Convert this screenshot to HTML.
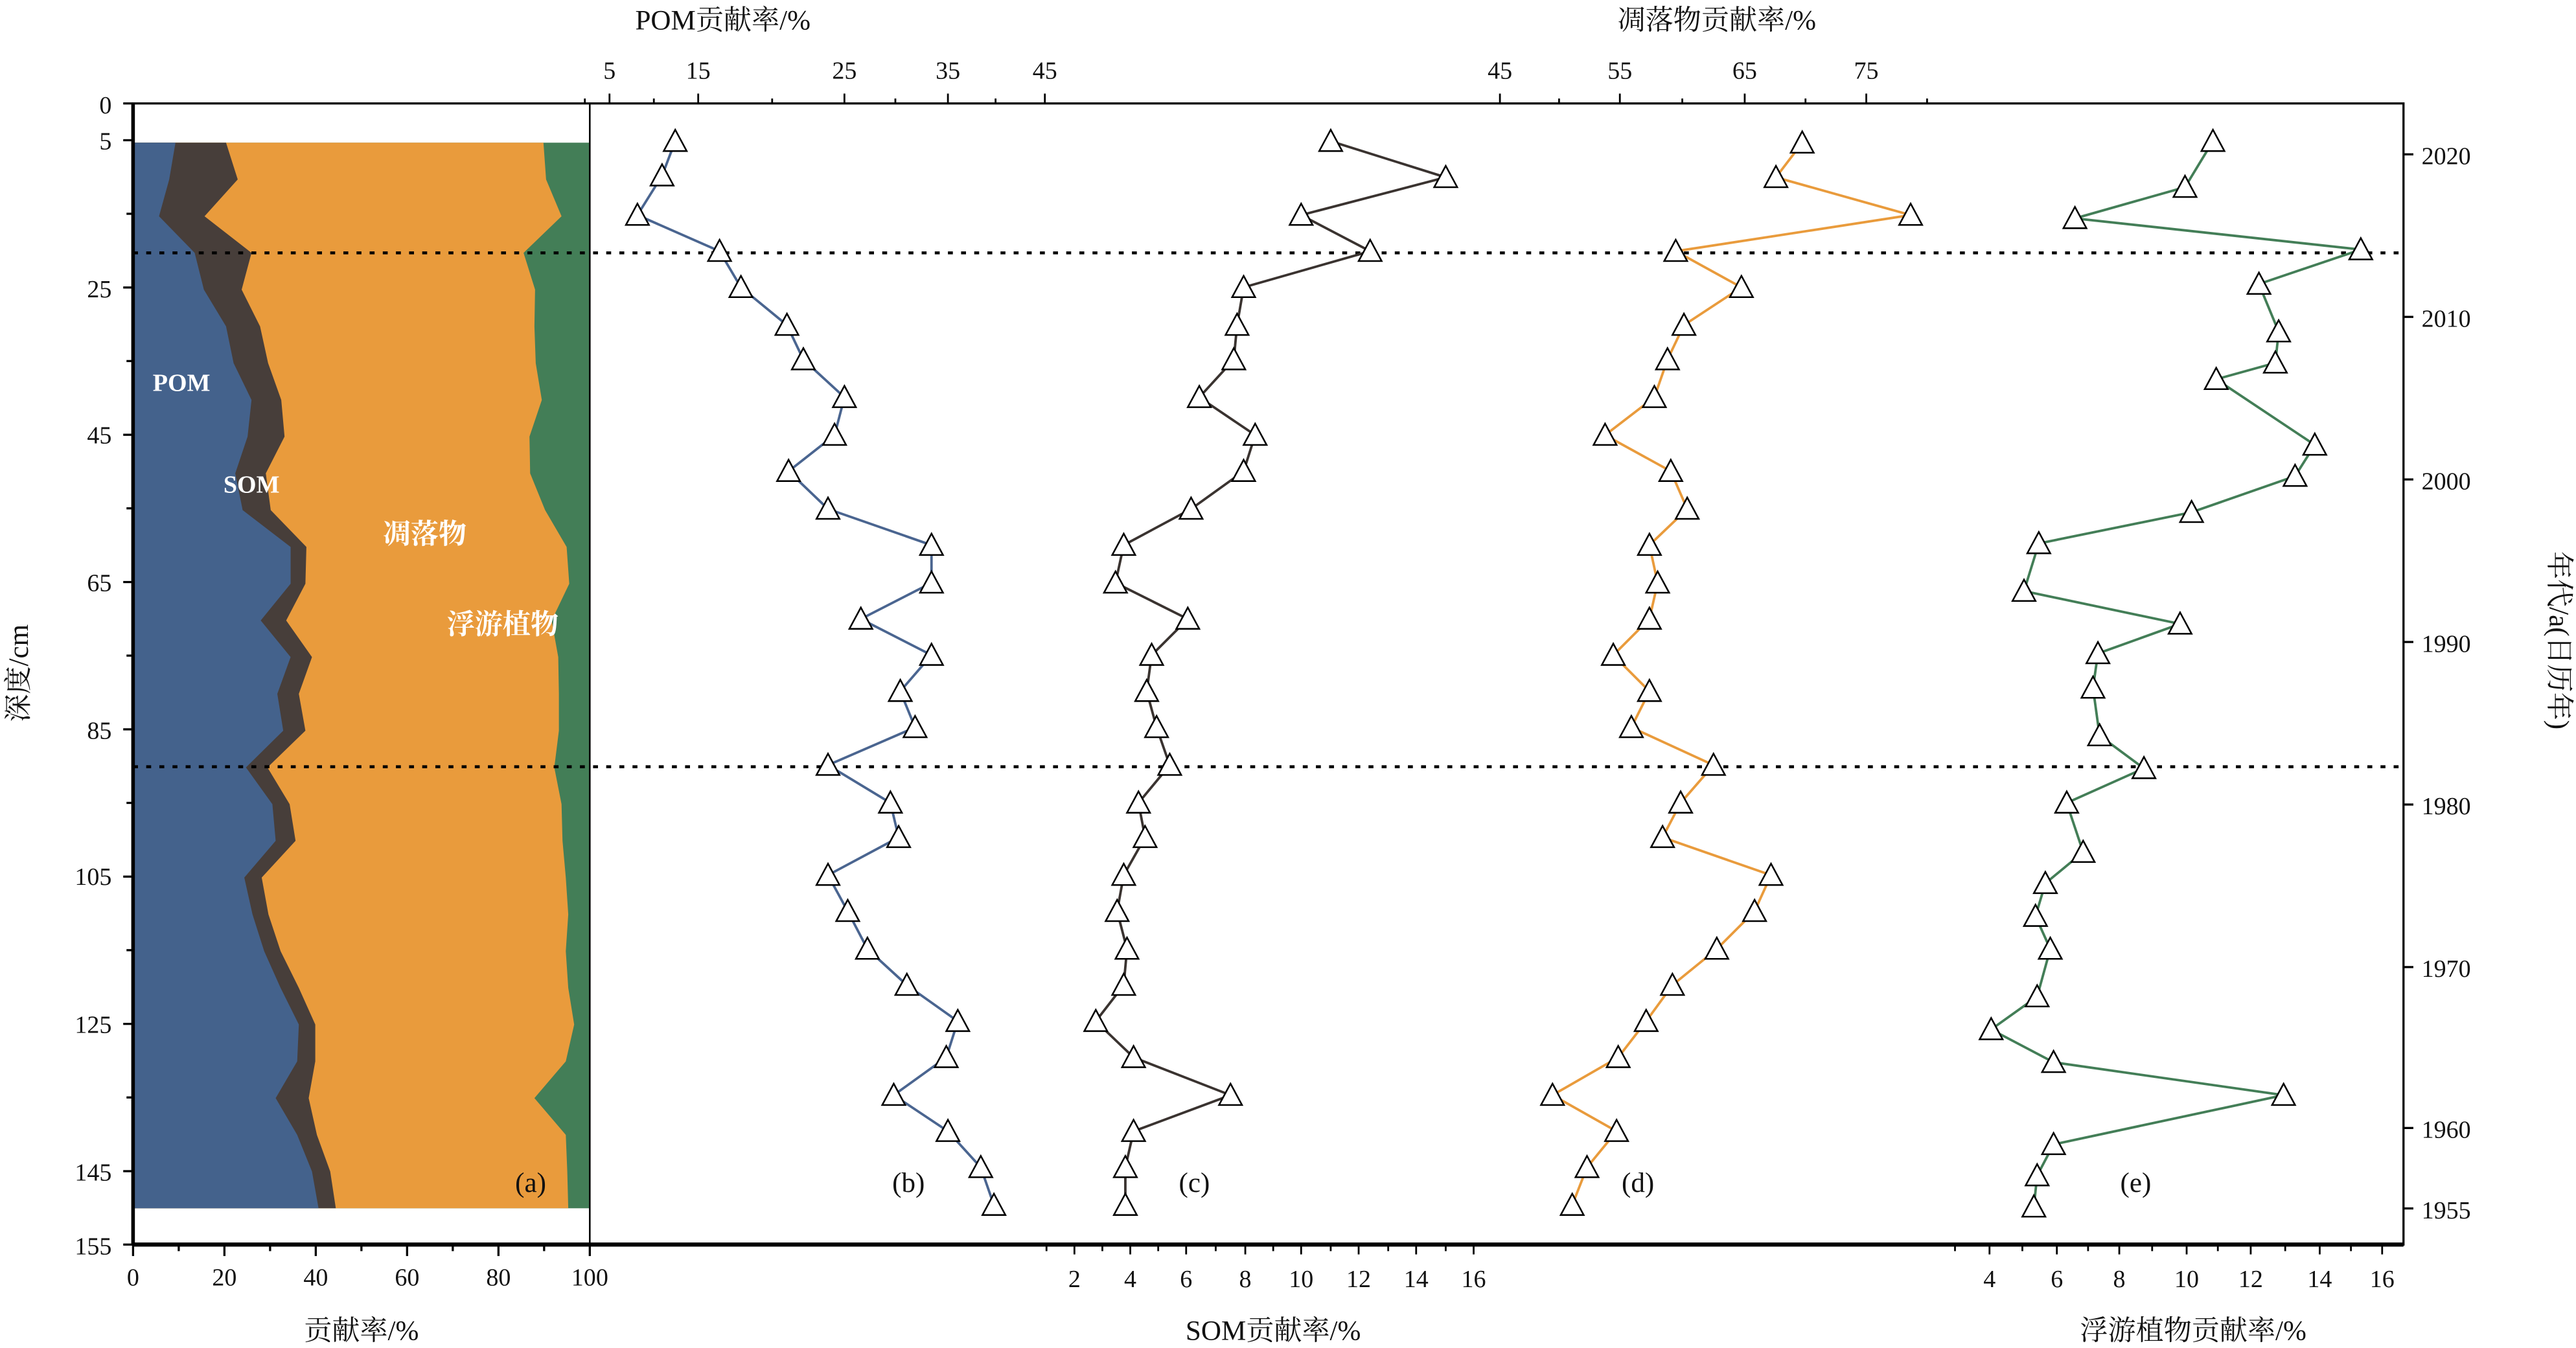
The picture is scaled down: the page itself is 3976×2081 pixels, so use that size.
<!DOCTYPE html>
<html><head><meta charset="utf-8"><style>html,body{margin:0;padding:0;background:#fff}svg{display:block}
text{font-family:"Liberation Serif","Noto Serif CJK SC",serif;fill:#111}</style></head><body>
<svg width="3976" height="2081" viewBox="0 0 1568 821" preserveAspectRatio="none" xmlns="http://www.w3.org/2000/svg">
<defs>
<marker id="t" viewBox="-8 -8 16 16" markerWidth="16" markerHeight="16" markerUnits="userSpaceOnUse" refX="0" refY="0">
<path d="M0,-7 L7,6 L-7,6 Z" fill="#fff" stroke="#000" stroke-width="1"/></marker>
</defs>
<rect x="81" y="86.9" width="278" height="649" fill="#437e57"/>
<path fill="#e99b3c" d="M81,86.9 L330.8,86.9 332.4,109.3 341.8,131.7 318.7,154 325.7,176.4 325.3,198.8 326.1,221.2 329.8,243.6 322.3,265.9 322.7,288.3 331.8,310.7 344.9,333.1 346.5,355.5 335.8,377.9 339.8,400.2 340.2,422.6 340.2,445 337.4,467.4 341.8,489.8 342.4,512.1 344.4,534.5 345.9,556.9 344.4,579.3 345.9,601.7 349.5,624 344.4,646.4 325.3,668.8 344.4,691.2 345.3,713.5 345.9,735.9 L81,735.9 Z"/>
<path fill="#473e3a" d="M81,86.9 L137.6,86.9 144.7,109.3 124.5,131.7 153.1,154 147.1,176.4 158.3,198.8 163.2,221.2 171.2,243.6 173.2,265.9 161.8,288.3 164.8,310.7 186.5,333.1 185.9,355.5 174.2,377.9 189.9,400.2 181.9,422.6 185.9,445 162.8,467.4 176.3,489.8 179.9,512.1 159.3,534.5 163.4,556.9 170.8,579.3 181.9,601.7 191.9,624 191.9,646.4 187.9,668.8 192.9,691.2 201,713.5 204.4,735.9 L81,735.9 Z"/>
<path fill="#44628c" d="M81,86.9 L106.8,86.9 103,109.3 96.8,131.7 118.5,154 124.1,176.4 137.6,198.8 142.2,221.2 153.1,243.6 150.7,265.9 143.2,288.3 147.7,310.7 176.9,333.1 176.9,355.5 158.7,377.9 176.9,400.2 168.8,422.6 172.4,445 149.7,467.4 165.8,489.8 167.8,512.1 148.7,534.5 153.7,556.9 160.8,579.3 170.8,601.7 181.9,624 180.9,646.4 167.8,668.8 180.9,691.2 189.9,713.5 193.9,735.9 L81,735.9 Z"/>
<text x="93" y="238" font-size="15" font-weight="bold" style="fill:#fff">POM</text>
<text x="136" y="300" font-size="15" font-weight="bold" style="fill:#fff">SOM</text>
<text x="233" y="331" font-size="17" font-weight="bold" style="fill:#fff">凋落物</text>
<text x="272" y="386" font-size="17" font-weight="bold" style="fill:#fff">浮游植物</text>
<line x1="81" y1="154" x2="1463" y2="154" stroke="#000" stroke-width="1.8" stroke-dasharray="3,5"/>
<line x1="81" y1="467" x2="1463" y2="467" stroke="#000" stroke-width="1.8" stroke-dasharray="3,5"/>
<rect x="81" y="63" width="1382" height="695" fill="none" stroke="#000" stroke-width="1.3"/>
<line x1="81" y1="63" x2="81" y2="758" stroke="#000" stroke-width="2.2"/>
<line x1="81" y1="758" x2="1463" y2="758" stroke="#000" stroke-width="2.5"/>
<line x1="359" y1="63" x2="359" y2="758" stroke="#000" stroke-width="1"/>
<g stroke="#000" stroke-width="1.3">
<line x1="75" y1="63" x2="81" y2="63"/><line x1="75" y1="85.4" x2="81" y2="85.4"/><line x1="77" y1="130.2" x2="81" y2="130.2"/><line x1="75" y1="175.1" x2="81" y2="175.1"/><line x1="77" y1="219.9" x2="81" y2="219.9"/><line x1="75" y1="264.8" x2="81" y2="264.8"/><line x1="77" y1="309.6" x2="81" y2="309.6"/><line x1="75" y1="354.5" x2="81" y2="354.5"/><line x1="77" y1="399.3" x2="81" y2="399.3"/><line x1="75" y1="444.2" x2="81" y2="444.2"/><line x1="77" y1="489" x2="81" y2="489"/><line x1="75" y1="533.9" x2="81" y2="533.9"/><line x1="77" y1="578.7" x2="81" y2="578.7"/><line x1="75" y1="623.6" x2="81" y2="623.6"/><line x1="77" y1="668.4" x2="81" y2="668.4"/><line x1="75" y1="713.3" x2="81" y2="713.3"/><line x1="75" y1="758" x2="81" y2="758"/>
</g>
<g font-size="15" text-anchor="end">
<text x="68" y="69">0</text><text x="68" y="91">5</text><text x="68" y="181">25</text><text x="68" y="270">45</text><text x="68" y="360">65</text><text x="68" y="450">85</text><text x="68" y="539">105</text><text x="68" y="629">125</text><text x="68" y="719">145</text><text x="68" y="764">155</text>
</g>
<text transform="translate(17,410) rotate(-90)" font-size="17" text-anchor="middle">深度/cm</text>
<g stroke="#000" stroke-width="1.3">
<line x1="81" y1="758" x2="81" y2="765"/><line x1="108.8" y1="758" x2="108.8" y2="762"/><line x1="136.6" y1="758" x2="136.6" y2="765"/><line x1="164.4" y1="758" x2="164.4" y2="762"/><line x1="192.2" y1="758" x2="192.2" y2="765"/><line x1="220" y1="758" x2="220" y2="762"/><line x1="247.8" y1="758" x2="247.8" y2="765"/><line x1="275.6" y1="758" x2="275.6" y2="762"/><line x1="303.4" y1="758" x2="303.4" y2="765"/><line x1="331.2" y1="758" x2="331.2" y2="762"/><line x1="359" y1="758" x2="359" y2="765"/>
</g>
<g font-size="15" text-anchor="middle">
<text x="81" y="783">0</text><text x="136.6" y="783">20</text><text x="192.2" y="783">40</text><text x="247.8" y="783">60</text><text x="303.4" y="783">80</text><text x="359" y="783">100</text>
</g>
<text x="220" y="816" font-size="17" text-anchor="middle">贡献率/%</text>
<g stroke="#000" stroke-width="1.1">
<line x1="654" y1="758" x2="654" y2="764"/><line x1="688" y1="758" x2="688" y2="764"/><line x1="722" y1="758" x2="722" y2="764"/><line x1="758" y1="758" x2="758" y2="764"/><line x1="792" y1="758" x2="792" y2="764"/><line x1="827" y1="758" x2="827" y2="764"/><line x1="862" y1="758" x2="862" y2="764"/><line x1="897" y1="758" x2="897" y2="764"/>
<line x1="637" y1="758" x2="637" y2="762"/><line x1="671" y1="758" x2="671" y2="762"/><line x1="705" y1="758" x2="705" y2="762"/><line x1="740" y1="758" x2="740" y2="762"/><line x1="775" y1="758" x2="775" y2="762"/><line x1="810" y1="758" x2="810" y2="762"/><line x1="845" y1="758" x2="845" y2="762"/><line x1="880" y1="758" x2="880" y2="762"/>
<line x1="1211" y1="758" x2="1211" y2="764"/><line x1="1252" y1="758" x2="1252" y2="764"/><line x1="1290" y1="758" x2="1290" y2="764"/><line x1="1331" y1="758" x2="1331" y2="764"/><line x1="1370" y1="758" x2="1370" y2="764"/><line x1="1412" y1="758" x2="1412" y2="764"/><line x1="1450" y1="758" x2="1450" y2="764"/>
<line x1="1190" y1="758" x2="1190" y2="762"/><line x1="1231" y1="758" x2="1231" y2="762"/><line x1="1271" y1="758" x2="1271" y2="762"/><line x1="1310" y1="758" x2="1310" y2="762"/><line x1="1350" y1="758" x2="1350" y2="762"/><line x1="1391" y1="758" x2="1391" y2="762"/><line x1="1431" y1="758" x2="1431" y2="762"/>
</g>
<g font-size="15" text-anchor="middle">
<text x="654" y="784">2</text><text x="688" y="784">4</text><text x="722" y="784">6</text><text x="758" y="784">8</text><text x="792" y="784">10</text><text x="827" y="784">12</text><text x="862" y="784">14</text><text x="897" y="784">16</text>
<text x="1211" y="784">4</text><text x="1252" y="784">6</text><text x="1290" y="784">8</text><text x="1331" y="784">10</text><text x="1370" y="784">12</text><text x="1412" y="784">14</text><text x="1450" y="784">16</text>
</g>
<text x="775" y="816" font-size="17" text-anchor="middle">SOM贡献率/%</text>
<text x="1335" y="816" font-size="17" text-anchor="middle">浮游植物贡献率/%</text>
<g stroke="#000" stroke-width="1.1">
<line x1="371" y1="63" x2="371" y2="57"/><line x1="425" y1="63" x2="425" y2="57"/><line x1="514" y1="63" x2="514" y2="57"/><line x1="577" y1="63" x2="577" y2="57"/><line x1="636" y1="63" x2="636" y2="57"/>
<line x1="398" y1="63" x2="398" y2="60"/><line x1="470" y1="63" x2="470" y2="60"/><line x1="545" y1="63" x2="545" y2="60"/><line x1="606" y1="63" x2="606" y2="60"/><line x1="356" y1="63" x2="356" y2="60"/>
<line x1="913" y1="63" x2="913" y2="57"/><line x1="986" y1="63" x2="986" y2="57"/><line x1="1062" y1="63" x2="1062" y2="57"/><line x1="1136" y1="63" x2="1136" y2="57"/>
<line x1="949" y1="63" x2="949" y2="60"/><line x1="1024" y1="63" x2="1024" y2="60"/><line x1="1099" y1="63" x2="1099" y2="60"/><line x1="1173" y1="63" x2="1173" y2="60"/>
</g>
<g font-size="15" text-anchor="middle">
<text x="371" y="48">5</text><text x="425" y="48">15</text><text x="514" y="48">25</text><text x="577" y="48">35</text><text x="636" y="48">45</text>
<text x="913" y="48">45</text><text x="986" y="48">55</text><text x="1062" y="48">65</text><text x="1136" y="48">75</text>
</g>
<text x="440" y="18" font-size="17" text-anchor="middle">POM贡献率/%</text>
<text x="1045" y="18" font-size="17" text-anchor="middle">凋落物贡献率/%</text>
<g stroke="#000" stroke-width="1.3">
<line x1="1463" y1="94" x2="1469" y2="94"/><line x1="1463" y1="193" x2="1469" y2="193"/><line x1="1463" y1="292" x2="1469" y2="292"/><line x1="1463" y1="391" x2="1469" y2="391"/><line x1="1463" y1="490" x2="1469" y2="490"/><line x1="1463" y1="589" x2="1469" y2="589"/><line x1="1463" y1="687" x2="1469" y2="687"/><line x1="1463" y1="736" x2="1469" y2="736"/>
</g>
<g font-size="15">
<text x="1474" y="100">2020</text><text x="1474" y="199">2010</text><text x="1474" y="298">2000</text><text x="1474" y="397">1990</text><text x="1474" y="496">1980</text><text x="1474" y="595">1970</text><text x="1474" y="693">1960</text><text x="1474" y="742">1955</text>
</g>
<text transform="translate(1552,390) rotate(90)" font-size="17" text-anchor="middle">年代/a(日历年)</text>
<polyline fill="none" stroke="#4a6590" stroke-width="1.5" marker-start="url(#t)" marker-mid="url(#t)" marker-end="url(#t)" points="411,86 403,107 388,131 438,153 451,175 479,198 489,219 514,242 508,265 480,287 504,310 567,332 567,355 524,377 567,399 548,421 557,443 504,466 542,489 547,510 504,533 516,555 528,578 552,600 583,622 576,644 544,667 577,689 597,711 605,734"/>
<polyline fill="none" stroke="#3a3330" stroke-width="1.5" marker-start="url(#t)" marker-mid="url(#t)" marker-end="url(#t)" points="810,86 880,108 792,131 834,153 757,175 753,198 751,219 730,242 764,265 757,287 725,310 684,332 679,355 723,377 701,399 698,421 704,443 712,466 693,489 697,510 684,533 680,555 686,578 684,600 667,622 690,644 749,667 690,689 685,711 685,734"/>
<polyline fill="none" stroke="#e99b3c" stroke-width="1.5" marker-start="url(#t)" marker-mid="url(#t)" marker-end="url(#t)" points="1097,87 1081,108 1163,131 1020,153 1060,175 1025,198 1015,219 1007,242 977,265 1017,287 1027,310 1004,332 1009,355 1004,377 982,399 1004,421 993,443 1043,466 1023,489 1012,510 1078,533 1068,555 1045,578 1018,600 1002,622 985,644 945,667 984,689 966,711 957,734"/>
<polyline fill="none" stroke="#437e57" stroke-width="1.5" marker-start="url(#t)" marker-mid="url(#t)" marker-end="url(#t)" points="1347,86 1330,114 1263,133 1437,152 1375,173 1387,202 1385,221 1349,231 1409,271 1397,290 1334,312 1241,331 1232,360 1327,380 1277,398 1274,419 1278,448 1305,468 1258,489 1268,519 1245,538 1239,558 1248,578 1240,607 1212,627 1250,647 1390,667 1250,697 1240,716 1238,735"/>
<g font-size="17" text-anchor="middle">
<text x="323" y="726">(a)</text><text x="553" y="726">(b)</text><text x="727" y="726">(c)</text><text x="997" y="726">(d)</text><text x="1300" y="726">(e)</text>
</g>
</svg>
</body></html>
